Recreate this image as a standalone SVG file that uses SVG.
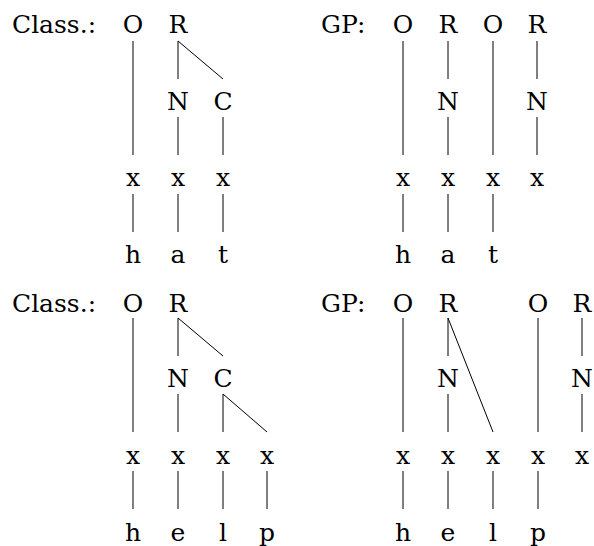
<svg xmlns="http://www.w3.org/2000/svg" width="594" height="546" viewBox="0 0 594 546">
  <style>
    text { font-family: "DejaVu Serif", "Liberation Serif", serif; font-size: 25px; fill: #000; }
    .n { text-anchor: middle; }
    .edge { stroke: #000; stroke-width: 1; fill: none; }
  </style>
  <rect width="594" height="546" fill="#fff"/>

  <!-- Panel labels -->
  <text id="label-class-hat" x="12" y="33">Class.:</text>
  <text id="label-gp-hat" x="321" y="33">GP:</text>
  <text id="label-class-help" x="12" y="312">Class.:</text>
  <text id="label-gp-help" x="321" y="312">GP:</text>

  <!-- Classical syllable structure: hat -->
  <g id="ch-O"><text class="n" x="133" y="33">O</text></g>
  <g id="ch-R"><text class="n" x="178" y="33">R</text></g>
  <g id="ch-N"><text class="n" x="178" y="110">N</text></g>
  <g id="ch-C"><text class="n" x="223" y="110">C</text></g>
  <g id="ch-x1"><text class="n" x="133" y="186">x</text></g>
  <g id="ch-x2"><text class="n" x="178" y="186">x</text></g>
  <g id="ch-x3"><text class="n" x="223" y="186">x</text></g>
  <g id="ch-h"><text class="n" x="133" y="263">h</text></g>
  <g id="ch-a"><text class="n" x="178" y="263">a</text></g>
  <g id="ch-t"><text class="n" x="223" y="263">t</text></g>

  <!-- Government Phonology structure: hat -->
  <g id="gh-O1"><text class="n" x="403" y="33">O</text></g>
  <g id="gh-R1"><text class="n" x="448" y="33">R</text></g>
  <g id="gh-O2"><text class="n" x="493" y="33">O</text></g>
  <g id="gh-R2"><text class="n" x="537" y="33">R</text></g>
  <g id="gh-N1"><text class="n" x="448" y="110">N</text></g>
  <g id="gh-N2"><text class="n" x="537" y="110">N</text></g>
  <g id="gh-x1"><text class="n" x="403" y="186">x</text></g>
  <g id="gh-x2"><text class="n" x="448" y="186">x</text></g>
  <g id="gh-x3"><text class="n" x="493" y="186">x</text></g>
  <g id="gh-x4"><text class="n" x="537" y="186">x</text></g>
  <g id="gh-h"><text class="n" x="403" y="263">h</text></g>
  <g id="gh-a"><text class="n" x="448" y="263">a</text></g>
  <g id="gh-t"><text class="n" x="493" y="263">t</text></g>

  <!-- Classical syllable structure: help -->
  <g id="cp-O"><text class="n" x="133" y="312">O</text></g>
  <g id="cp-R"><text class="n" x="178" y="312">R</text></g>
  <g id="cp-N"><text class="n" x="178" y="387">N</text></g>
  <g id="cp-C"><text class="n" x="223" y="387">C</text></g>
  <g id="cp-x1"><text class="n" x="133" y="464">x</text></g>
  <g id="cp-x2"><text class="n" x="178" y="464">x</text></g>
  <g id="cp-x3"><text class="n" x="223" y="464">x</text></g>
  <g id="cp-x4"><text class="n" x="267" y="464">x</text></g>
  <g id="cp-h"><text class="n" x="133" y="541">h</text></g>
  <g id="cp-e"><text class="n" x="178" y="541">e</text></g>
  <g id="cp-l"><text class="n" x="223" y="541">l</text></g>
  <g id="cp-p"><text class="n" x="267" y="541">p</text></g>

  <!-- Government Phonology structure: help -->
  <g id="gp-O1"><text class="n" x="403" y="312">O</text></g>
  <g id="gp-R1"><text class="n" x="448" y="312">R</text></g>
  <g id="gp-O2"><text class="n" x="538" y="312">O</text></g>
  <g id="gp-R2"><text class="n" x="582" y="312">R</text></g>
  <g id="gp-N1"><text class="n" x="448" y="387">N</text></g>
  <g id="gp-N2"><text class="n" x="582" y="387">N</text></g>
  <g id="gp-x1"><text class="n" x="403" y="464">x</text></g>
  <g id="gp-x2"><text class="n" x="448" y="464">x</text></g>
  <g id="gp-x3"><text class="n" x="493" y="464">x</text></g>
  <g id="gp-x4"><text class="n" x="538" y="464">x</text></g>
  <g id="gp-x5"><text class="n" x="582" y="464">x</text></g>
  <g id="gp-h"><text class="n" x="403" y="541">h</text></g>
  <g id="gp-e"><text class="n" x="448" y="541">e</text></g>
  <g id="gp-l"><text class="n" x="493" y="541">l</text></g>
  <g id="gp-p"><text class="n" x="538" y="541">p</text></g>

  <!-- Association lines -->
  <g id="connectors" class="edge">
    <!-- hat, classical -->
    <line class="edge" x1="133" y1="41" x2="133" y2="155"/>
    <line class="edge" x1="178" y1="41" x2="178" y2="79"/>
    <line class="edge" x1="178" y1="41" x2="223" y2="79"/>
    <line class="edge" x1="178" y1="117" x2="178" y2="155"/>
    <line class="edge" x1="223" y1="117" x2="223" y2="155"/>
    <line class="edge" x1="133" y1="194" x2="133" y2="232"/>
    <line class="edge" x1="178" y1="194" x2="178" y2="232"/>
    <line class="edge" x1="223" y1="194" x2="223" y2="232"/>
    <!-- hat, GP -->
    <line class="edge" x1="403" y1="41" x2="403" y2="155"/>
    <line class="edge" x1="448" y1="41" x2="448" y2="79"/>
    <line class="edge" x1="448" y1="117" x2="448" y2="155"/>
    <line class="edge" x1="493" y1="41" x2="493" y2="155"/>
    <line class="edge" x1="537" y1="41" x2="537" y2="79"/>
    <line class="edge" x1="537" y1="117" x2="537" y2="155"/>
    <line class="edge" x1="403" y1="194" x2="403" y2="232"/>
    <line class="edge" x1="448" y1="194" x2="448" y2="232"/>
    <line class="edge" x1="493" y1="194" x2="493" y2="232"/>
    <!-- help, classical -->
    <line class="edge" x1="133" y1="318" x2="133" y2="432"/>
    <line class="edge" x1="178" y1="318" x2="178" y2="356"/>
    <line class="edge" x1="178" y1="318" x2="223" y2="356"/>
    <line class="edge" x1="178" y1="394" x2="178" y2="432"/>
    <line class="edge" x1="223" y1="394" x2="223" y2="432"/>
    <line class="edge" x1="223" y1="394" x2="267" y2="432"/>
    <line class="edge" x1="133" y1="471" x2="133" y2="509"/>
    <line class="edge" x1="178" y1="471" x2="178" y2="509"/>
    <line class="edge" x1="223" y1="471" x2="223" y2="509"/>
    <line class="edge" x1="267" y1="471" x2="267" y2="509"/>
    <!-- help, GP -->
    <line class="edge" x1="403" y1="318" x2="403" y2="432"/>
    <line class="edge" x1="448" y1="318" x2="448" y2="356"/>
    <line class="edge" x1="448" y1="318" x2="493" y2="432"/>
    <line class="edge" x1="448" y1="394" x2="448" y2="432"/>
    <line class="edge" x1="538" y1="318" x2="538" y2="432"/>
    <line class="edge" x1="582" y1="318" x2="582" y2="356"/>
    <line class="edge" x1="582" y1="394" x2="582" y2="432"/>
    <line class="edge" x1="403" y1="471" x2="403" y2="509"/>
    <line class="edge" x1="448" y1="471" x2="448" y2="509"/>
    <line class="edge" x1="493" y1="471" x2="493" y2="509"/>
    <line class="edge" x1="538" y1="471" x2="538" y2="509"/>
  </g>
</svg>
